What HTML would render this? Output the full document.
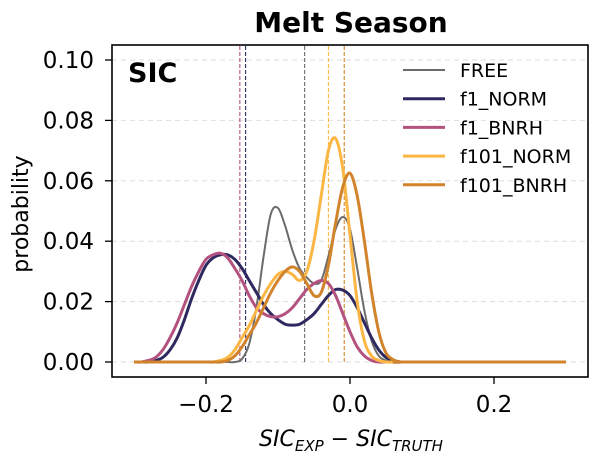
<!DOCTYPE html>
<html><head><meta charset="utf-8"><style>
body{margin:0;background:#fff;}
svg{display:block;font-family:"DejaVu Sans","Liberation Sans",sans-serif;}
</style></head><body>
<svg id="chart" width="600" height="460" viewBox="0 0 600 460">
<text x="351" y="32" text-anchor="middle" font-size="28" font-weight="bold">Melt Season</text>
<g id="grid"></g>
<g id="means"></g>
<g id="curves"></g>
<rect x="112" y="45" width="476" height="332" fill="none" stroke="#000" stroke-width="1.6"/>
<g id="ticks"></g>
<text x="128" y="82" font-size="27" font-weight="bold">SIC</text>
<g id="legend"></g>
<text transform="translate(28,214) rotate(-90)" text-anchor="middle" font-size="22">probability</text>
<text x="351" y="446" text-anchor="middle" font-size="22" font-style="italic">SIC<tspan font-size="15" dy="5">EXP</tspan><tspan dy="-5" font-style="normal"> − </tspan>SIC<tspan font-size="15" dy="5">TRUTH</tspan></text>
</svg>
<script>
const xs = [-0.30,-0.29,-0.28,-0.27,-0.26,-0.25,-0.24,-0.23,-0.22,-0.21,-0.20,-0.19,-0.18,-0.17,-0.16,-0.15,-0.14,-0.13,-0.12,-0.11,-0.10,-0.09,-0.08,-0.07,-0.06,-0.05,-0.04,-0.03,-0.02,-0.01,0.00,0.01,0.02,0.03,0.04,0.05,0.06,0.07,0.08,0.30];
const seriesNames = ["FREE","f1_NORM","f1_BNRH","f101_NORM","f101_BNRH"];
const seriesColors = ["#6b6b6b","#2e2a60","#b4527f","#fbb644","#d2842c"];
const freeVals  = [0,0,0,0,0,0,0,0,0,0,0,0,0,0,0,0.001,0.006,0.018,0.035,0.049,0.051,0.045,0.037,0.031,0.028,0.026,0.027,0.035,0.044,0.048,0.044,0.031,0.017,0.007,0.002,0.0005,0,0,0,0];
const f1NormVals = [0,0,0,0.0005,0.0015,0.004,0.008,0.014,0.021,0.027,0.032,0.0345,0.0355,0.0355,0.034,0.031,0.027,0.023,0.019,0.016,0.014,0.0125,0.0122,0.0125,0.014,0.016,0.019,0.022,0.024,0.0238,0.022,0.018,0.013,0.008,0.004,0.0015,0.0005,0,0,0];
const f1BnrhVals = [0,0,0.0005,0.0015,0.004,0.008,0.013,0.019,0.025,0.030,0.034,0.0355,0.036,0.0345,0.031,0.027,0.022,0.018,0.016,0.015,0.015,0.016,0.018,0.021,0.024,0.026,0.027,0.026,0.022,0.016,0.010,0.005,0.002,0.0005,0,0,0,0,0,0];
const f101NormVals = [0,0,0,0,0,0,0,0,0,0,0,0,0.0005,0.0015,0.004,0.008,0.012,0.017,0.022,0.026,0.029,0.030,0.029,0.027,0.030,0.040,0.055,0.070,0.074,0.064,0.042,0.020,0.007,0.002,0.0005,0,0,0,0,0];
const f101BnrhVals = [0,0,0,0,0,0,0,0,0,0,0,0,0,0.0005,0.002,0.005,0.009,0.013,0.018,0.023,0.027,0.030,0.0315,0.030,0.026,0.022,0.023,0.032,0.046,0.058,0.0625,0.055,0.040,0.023,0.010,0.003,0.0008,0,0,0];
const meanVals = [-0.063,-0.145,-0.153,-0.030,-0.008];
const yTicks = [0,0.02,0.04,0.06,0.08,0.10];
const yTickLabels = ["0.00","0.02","0.04","0.06","0.08","0.10"];
const xTicks = [-0.2,0.0,0.2];
const xTickLabels = ["−0.2","0.0","0.2"];

const allVals=[freeVals,f1NormVals,f1BnrhVals,f101NormVals,f101BnrhVals];
const NS="http://www.w3.org/2000/svg";
const X=v=>350+720*v;
const Y=v=>362-3020*v;
function mk(tag,attrs,parent){const e=document.createElementNS(NS,tag);for(const k in attrs)e.setAttribute(k,attrs[k]);parent.appendChild(e);return e;}
const grid=document.getElementById('grid'),ticks=document.getElementById('ticks');
yTicks.forEach((t,i)=>{
  const g=mk('line',{x1:112,x2:588,y1:Y(t),y2:Y(t),stroke:'#ddd','stroke-dasharray':'5,4','stroke-width':1},grid);
  
  
  const tk=mk('line',{x1:105,x2:112,y1:Y(t),y2:Y(t),stroke:'#000','stroke-width':1.3},ticks);
  
  
  const tx=mk('text',{x:94,y:Y(t)+8,'text-anchor':'end','font-size':23},ticks);
  tx.textContent=yTickLabels[i];
  
  
});
xTicks.forEach((t,i)=>{
  const tk=mk('line',{x1:X(t),x2:X(t),y1:377,y2:384,stroke:'#000','stroke-width':1.3},ticks);
  
  
  const tx=mk('text',{x:X(t),y:412,'text-anchor':'middle','font-size':23},ticks);
  tx.textContent=xTickLabels[i];
  
  
});
const means=document.getElementById('means');
meanVals.forEach((m,i)=>{
  const l=mk('line',{x1:X(m),x2:X(m),y1:46,y2:Y(0),stroke:seriesColors[i],'stroke-dasharray':'4,2','stroke-width':1.1},means);
  
  
});
function smooth(pts){
  let d='M'+pts[0][0]+','+pts[0][1];
  for(let i=0;i<pts.length-1;i++){
    const p0=pts[i-1]||pts[i],p1=pts[i],p2=pts[i+1],p3=pts[i+2]||p2;
    const c1=[p1[0]+(p2[0]-p0[0])/6,p1[1]+(p2[1]-p0[1])/6];
    const c2=[p2[0]-(p3[0]-p1[0])/6,p2[1]-(p3[1]-p1[1])/6];
    if(i===pts.length-2){c1[1]=p1[1];c2[1]=p2[1];}
    d+=' C'+c1[0]+','+c1[1]+' '+c2[0]+','+c2[1]+' '+p2[0]+','+p2[1];
  }
  return d;
}
const curves=document.getElementById('curves');
allVals.forEach((vals,i)=>{
  const pts=xs.map((x,j)=>[X(x),Y(vals[j])]);
  const p=mk('path',{d:smooth(pts),fill:'none',stroke:seriesColors[i],'stroke-width':i===0?2:3,'stroke-linejoin':'round'},curves);
  
  
});
const legend=document.getElementById('legend');
seriesNames.forEach((n,i)=>{
  const y=70+28.7*i;
  const l=mk('line',{x1:403,x2:445,y1:y,y2:y,stroke:seriesColors[i],'stroke-width':i===0?2:3},legend);
  
  
  const t=mk('text',{x:460,y:y+7,'font-size':19},legend);
  t.textContent=n;
  
  
});
</script>
</body></html>
